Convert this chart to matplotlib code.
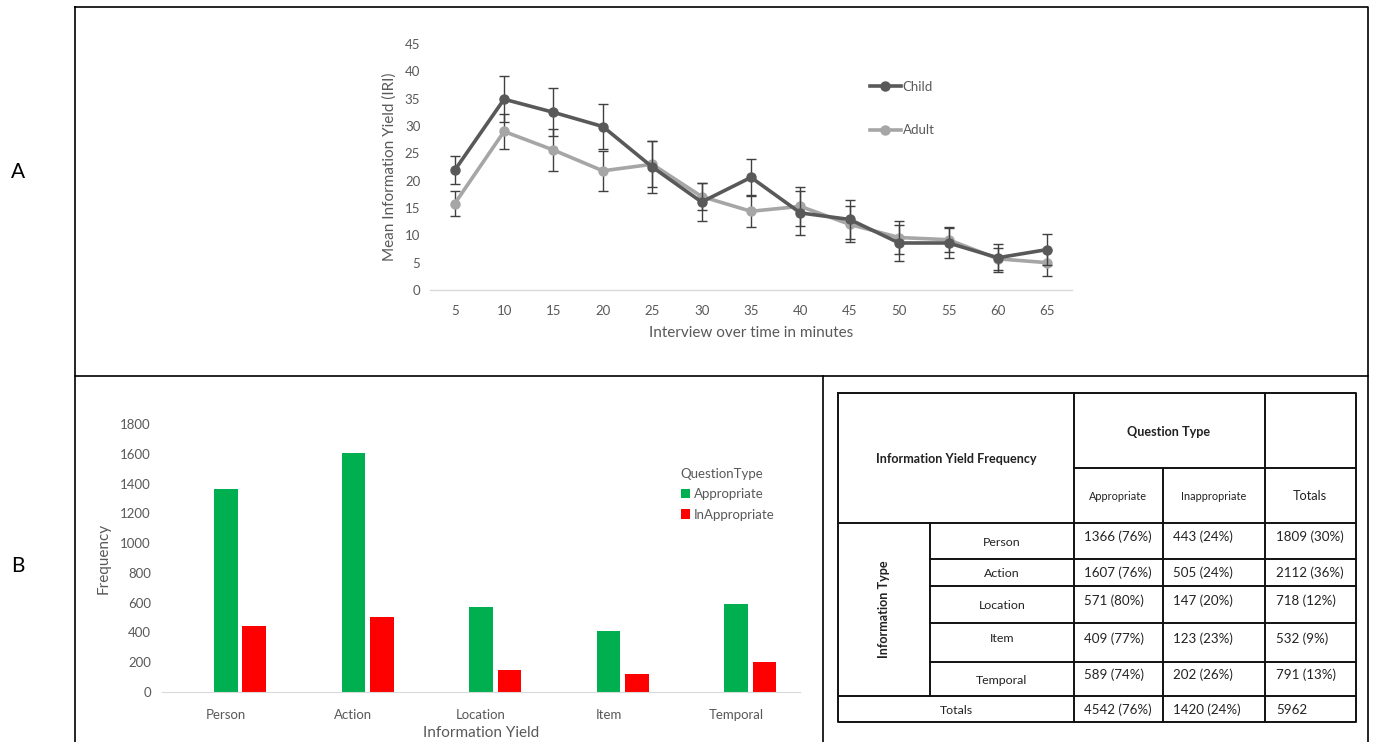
import matplotlib
matplotlib.use("Agg")
import matplotlib.pyplot as plt
from matplotlib.lines import Line2D

plt.rcParams['font.family'] = ['Lato', 'DejaVu Sans']

# ---------------- data ----------------
minutes = ['5', '10', '15', '20', '25', '30', '35', '40', '45', '50', '55', '60', '65']
child_mean = [21.9, 34.9, 32.5, 29.9, 22.5, 16.1, 20.6, 14.1, 12.9, 8.6, 8.6, 5.9, 7.4]
child_err = [2.6, 4.2, 4.4, 4.1, 4.7, 3.5, 3.4, 4.0, 3.6, 3.3, 2.8, 2.6, 2.9]
adult_mean = [15.8, 29.0, 25.6, 21.8, 23.0, 17.1, 14.4, 15.3, 12.0, 9.6, 9.2, 5.7, 5.0]
adult_err = [2.3, 3.2, 3.9, 3.6, 4.2, 2.5, 2.9, 3.6, 3.3, 3.0, 2.3, 2.0, 2.4]

info_types = ['Person', 'Action', 'Location', 'Item', 'Temporal']
appropriate = [1366, 1607, 571, 409, 589]
inappropriate = [443, 505, 147, 123, 202]
appr_pct = [76, 76, 80, 77, 74]
inappr_pct = [24, 24, 20, 23, 26]
row_totals = [1809, 2112, 718, 532, 791]
row_tot_pct = [30, 36, 12, 9, 13]
total_appr, total_appr_pct = 4542, 76
total_inappr, total_inappr_pct = 1420, 24
grand_total = 5962

W, H = 1374, 742
fig = plt.figure(figsize=(W / 100, H / 100), dpi=100)


def px(x0, y0, x1, y1):
    return [x0 / W, 1 - y1 / H, (x1 - x0) / W, (y1 - y0) / H]


TXT = '#595959'
AXC = '#D9D9D9'

# ---------------- frame / overlay ----------------
ov = fig.add_axes([0, 0, 1, 1])
ov.set_xlim(0, W)
ov.set_ylim(H, 0)
ov.axis('off')
fl = dict(color='black', lw=1.2)
ov.plot([75, 1368, 1368, 75, 75], [7, 7, 376, 376, 7], **fl)
ov.plot([75, 75], [376, 742], **fl)
ov.plot([823, 823], [376, 742], **fl)
ov.plot([1368, 1368], [376, 742], **fl)
ov.text(18, 172, 'A', fontsize=15, ha='center', va='center', color='black')
ov.text(18, 566, 'B', fontsize=15, ha='center', va='center', color='black')

# ---------------- top line chart ----------------
ax = fig.add_axes(px(430, 44, 1072, 290))
xs = list(range(1, len(minutes) + 1))
cc, ac = '#595959', '#A6A6A6'
ax.errorbar(xs, child_mean, yerr=child_err, color=cc, lw=2.6, marker='o', ms=6.5,
            ecolor='#404040', elinewidth=1.0, capsize=3.5, capthick=1.0, zorder=3)
ax.errorbar(xs, adult_mean, yerr=adult_err, color=ac, lw=2.6, marker='o', ms=6.5,
            ecolor='#404040', elinewidth=1.0, capsize=3.5, capthick=1.0, zorder=2)
ax.set_xlim(0.5, len(minutes) + 0.5)
ax.set_ylim(0, 45)
ax.set_yticks(range(0, 46, 5))
ax.set_xticks(xs)
ax.set_xticklabels(minutes)
for s in ['top', 'right', 'left']:
    ax.spines[s].set_visible(False)
ax.spines['bottom'].set_color(AXC)
ax.spines['bottom'].set_linewidth(1.0)
ax.tick_params(length=0, labelsize=9.5, labelcolor=TXT, pad=7)
ax.tick_params(axis='x', pad=11)
ax.set_ylabel('Mean Information Yield (IRI)', fontsize=11, color=TXT, labelpad=6)
ax.set_xlabel('Interview over time in minutes', fontsize=11, color=TXT, labelpad=6)
ax.patch.set_alpha(0)
h1 = Line2D([], [], color=cc, lw=2.6, marker='o', ms=6.5)
h2 = Line2D([], [], color=ac, lw=2.6, marker='o', ms=6.5)
ax.legend([h1, h2], ['Child', 'Adult'], frameon=False, fontsize=9.5, labelcolor=TXT,
          loc='upper left', bbox_to_anchor=(863 / W, 1 - 74 / H),
          bbox_transform=fig.transFigure, labelspacing=2.4, handlelength=2.4,
          handletextpad=0.1, borderpad=0)

# ---------------- bottom bar chart ----------------
bx = fig.add_axes(px(162, 424, 800, 692))
pos = list(range(len(info_types)))
bw = 0.185
off = 0.222
bx.bar(pos, appropriate, width=bw, color='#00B050', label='Appropriate')
bx.bar([p + off for p in pos], inappropriate, width=bw, color='#FF0000', label='InAppropriate')
bx.set_xlim(-0.5, len(info_types) - 0.5)
bx.set_ylim(0, 1800)
bx.set_yticks(range(0, 1801, 200))
bx.set_xticks(pos)
bx.set_xticklabels(info_types)
for s in ['top', 'right', 'left']:
    bx.spines[s].set_visible(False)
bx.spines['bottom'].set_color(AXC)
bx.tick_params(length=0, labelsize=9.5, labelcolor=TXT, pad=8)
bx.tick_params(axis='x', pad=12)
bx.set_ylabel('Frequency', fontsize=11, color=TXT, labelpad=7)
bx.set_xlabel('Information Yield', fontsize=11, color=TXT, labelpad=4)
bx.patch.set_alpha(0)
lg = bx.legend(title='QuestionType', frameon=False, fontsize=9.5, title_fontsize=9.5,
               labelcolor=TXT, loc='upper left', bbox_to_anchor=(674 / W, 1 - 461 / H),
               bbox_transform=fig.transFigure, handlelength=0.75, handleheight=0.75,
               handletextpad=0.25, labelspacing=0.65, alignment='left', borderpad=0)
lg.get_title().set_color(TXT)

# ---------------- table ----------------
tl = dict(color='#111111', lw=1.4, solid_capstyle='projecting')
tx0, tx1, ty0, ty1 = 838, 1356, 393, 722
cx = [838, 930, 1074, 1163, 1265, 1356]
ry = [523, 559, 586, 623, 662, 696]
ov.plot([tx0, tx1, tx1, tx0, tx0], [ty0, ty0, ty1, ty1, ty0], **tl)
ov.plot([cx[1], cx[1]], [523, 696], **tl)
ov.plot([cx[2], cx[2]], [ty0, ty1], **tl)
ov.plot([cx[3], cx[3]], [468, ty1], **tl)
ov.plot([cx[4], cx[4]], [ty0, ty1], **tl)
ov.plot([cx[2], tx1], [468, 468], **tl)
ov.plot([tx0, tx1], [523, 523], **tl)
for y in ry[1:5]:
    ov.plot([cx[1], tx1], [y, y], **tl)
ov.plot([tx0, tx1], [696, 696], **tl)

TC = '#222222'
VS = 9.6
ov.text(956, 459, 'Information Yield Frequency', fontsize=9.1, fontweight='bold',
        ha='center', va='center', color=TC)
ov.text(1169, 432, 'Question Type', fontsize=9.1, fontweight='bold',
        ha='center', va='center', color=TC)
ov.text(1118, 496, 'Appropriate', fontsize=7.8, ha='center', va='center', color=TC)
ov.text(1214, 496, 'Inappropriate', fontsize=7.8, ha='center', va='center', color=TC)
ov.text(1310, 496, 'Totals', fontsize=9.2, ha='center', va='center', color=TC)
ov.text(884, 609, 'Information Type', fontsize=9.1, fontweight='bold', rotation=90,
        ha='center', va='center', color=TC)
for i, name in enumerate(info_types):
    yc = (ry[i] + ry[i + 1]) / 2
    ov.text(1002, yc + 1 if i != 3 else yc - 4, name, fontsize=8.9,
            ha='center', va='center', color=TC)
    yv = yc - 4 if i != 1 else yc
    ov.text(1084, yv, f'{appropriate[i]} ({appr_pct[i]}%)', fontsize=VS,
            ha='left', va='center', color=TC)
    ov.text(1173, yv, f'{inappropriate[i]} ({inappr_pct[i]}%)', fontsize=VS,
            ha='left', va='center', color=TC)
    ov.text(1276, yv, f'{row_totals[i]} ({row_tot_pct[i]}%)', fontsize=VS,
            ha='left', va='center', color=TC)
ov.text(956, 710, 'Totals', fontsize=8.9, ha='center', va='center', color=TC)
ov.text(1084, 710, f'{total_appr} ({total_appr_pct}%)', fontsize=VS, ha='left', va='center', color=TC)
ov.text(1173, 710, f'{total_inappr} ({total_inappr_pct}%)', fontsize=VS, ha='left', va='center', color=TC)
ov.text(1276, 710, f'{grand_total}', fontsize=VS, ha='left', va='center', color=TC)

fig.savefig('out.png', dpi=100)
